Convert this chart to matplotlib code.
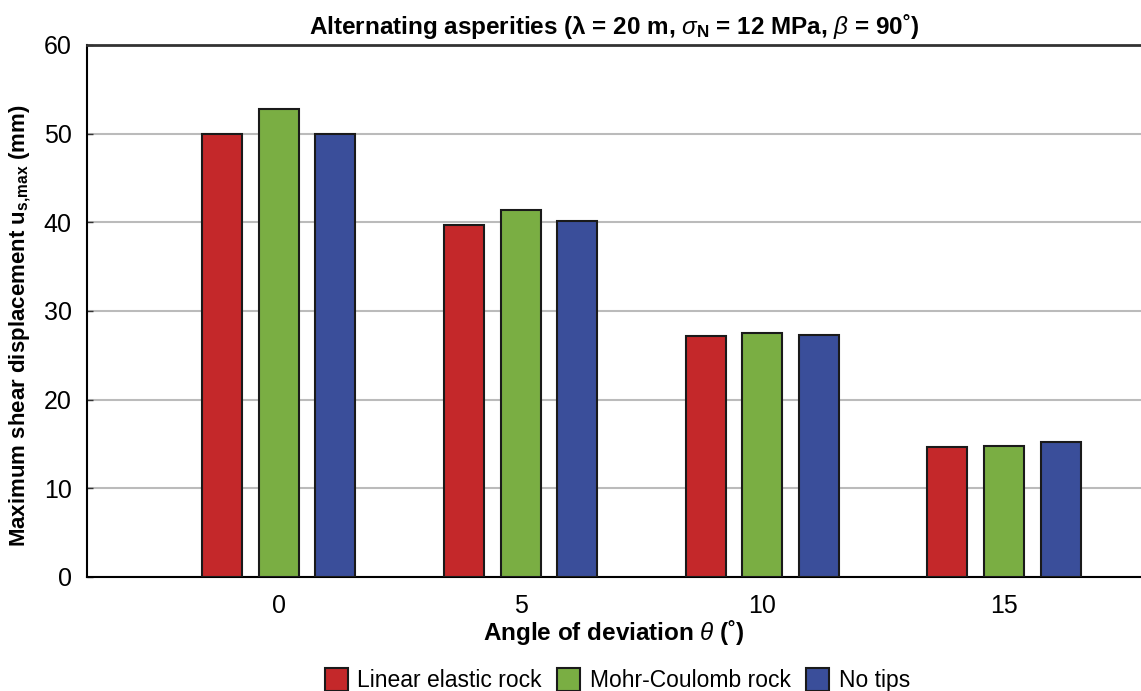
import numpy as np
import matplotlib
matplotlib.use("Agg")
import matplotlib.pyplot as plt

plt.rcParams['font.family'] = ['Liberation Sans', 'DejaVu Sans']
plt.rcParams['mathtext.fontset'] = 'custom'
plt.rcParams['mathtext.rm'] = 'Liberation Sans'
plt.rcParams['mathtext.it'] = 'Liberation Sans:italic'
plt.rcParams['mathtext.bf'] = 'Liberation Sans:bold'

angles = ['0', '5', '10', '15']
series = ['Linear elastic rock', 'Mohr-Coulomb rock', 'No tips']
linear_elastic = [50.0, 39.7, 27.2, 14.7]
mohr_coulomb = [52.8, 41.4, 27.5, 14.8]
no_tips = [50.0, 40.1, 27.3, 15.2]
colors = ['#C4282A', '#7AAE43', '#3A4E9A']

fig = plt.figure(figsize=(11.41, 6.91), dpi=100)
ax = fig.add_axes([0.0762, 0.165, 0.9238, 0.7699])

x = np.arange(len(angles))
width = 0.1655
step = 0.234
for i, (vals, lab, c) in enumerate(zip([linear_elastic, mohr_coulomb, no_tips], series, colors)):
    ax.bar(x + (i - 1) * step, vals, width, color=c, edgecolor='#1a1a1a',
           linewidth=1.5, label=lab, zorder=3)

ax.set_xlim(-0.794, 3.567)
ax.set_ylim(0, 60)
ax.set_yticks(np.arange(0, 61, 10))
ax.set_xticks(x)
ax.set_xticklabels(angles)
ax.yaxis.grid(True, color='#BBBBBB', linewidth=1.5, zorder=0)
ax.tick_params(axis='both', direction='in', labelsize=18, length=4, width=1, color='#333333')
ax.tick_params(axis='y', pad=11)
ax.tick_params(axis='x', pad=12)

ax.spines['right'].set_visible(False)
ax.spines['top'].set_color('#333333')
ax.spines['top'].set_linewidth(2)
ax.spines['left'].set_linewidth(1.5)
ax.spines['bottom'].set_linewidth(1.5)

ax.set_title(r'Alternating asperities (λ = 20 m, $\sigma_{\mathbf{N}}$ = 12 MPa, $\beta$ = 90˚)',
             fontsize=17.5, fontweight='bold', pad=8)
ax.set_xlabel(r'Angle of deviation $\theta$ (˚)', fontsize=17.5, fontweight='bold', labelpad=0)
ax.set_ylabel(r'Maximum shear displacement u$_{\mathbf{s{,}max}}$ (mm)', fontsize=16,
              fontweight='bold')
ax.yaxis.set_label_coords(-0.0515, 0.472)

fig.legend(loc='lower center', bbox_to_anchor=(0.541, -0.032), ncol=3, frameon=False,
           fontsize=16.5, handlelength=1.0, handleheight=1.2, handletextpad=0.4,
           columnspacing=0.7)

fig.savefig('out.png', dpi=100)
